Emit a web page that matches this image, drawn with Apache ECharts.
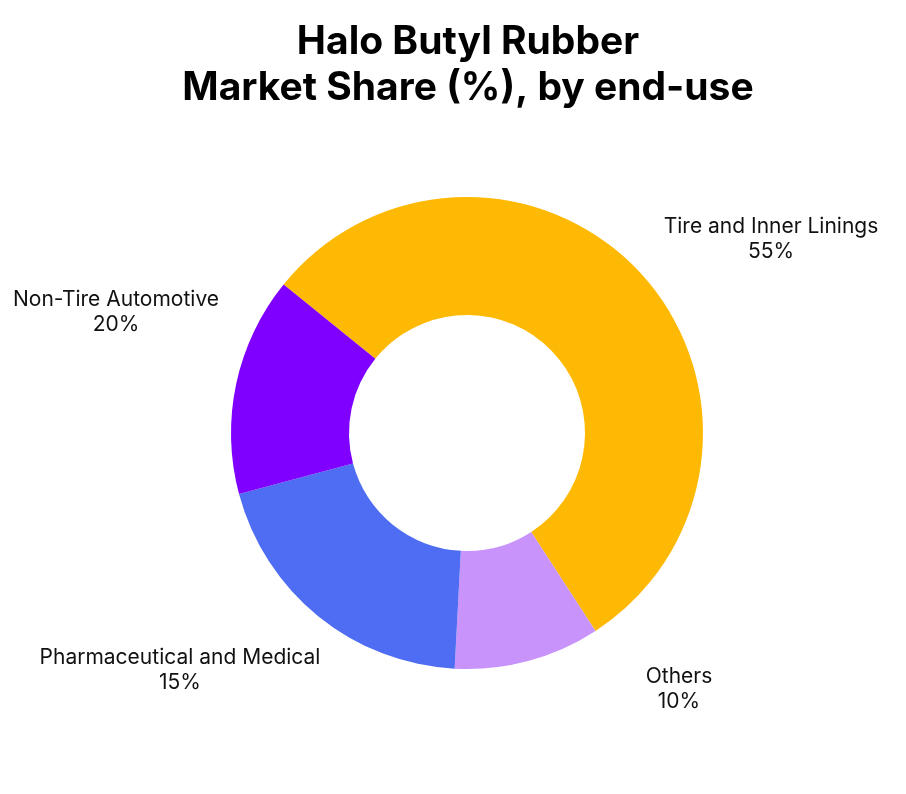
<!DOCTYPE html>
<html>
<head>
<meta charset="utf-8">
<script src="https://cdn.jsdelivr.net/npm/echarts@6/dist/echarts.min.js"></script>
<style>
  html, body { margin: 0; padding: 0; background: #ffffff; }
  #chart { width: 906px; height: 794px; }
</style>
</head>
<body>
<div id="chart"></div>
<script>
// ---- data ----
const categories = ['Tire and Inner Linings', 'Others', 'Pharmaceutical and Medical', 'Non-Tire Automotive'];
// slice sizes as drawn in the picture (share of the circle, %)
const sliceShares = [55, 10, 20, 15];
// percentages printed in the labels of the picture
const labelShares = [55, 10, 15, 20];
const titleLines = ['Halo Butyl Rubber', 'Market Share (%), by end-use'];

// ---- styles ----
const colors = ['#FDB903', '#C893FA', '#4E6DF3', '#7F00FF'];

const chart = echarts.init(document.getElementById('chart'), null, { renderer: 'canvas' });

const cx = 467, cy = 433;
// label centres relative to the pie centre (layout only)
const labelOffsets = [[304, -194], [212, 256], [-287, 237], [-351, -121]];

chart.setOption({
  animation: false,
  backgroundColor: '#ffffff',
  color: colors,
  title: {
    text: titleLines.join('\n'),
    left: 468,
    top: 19,
    padding: 0,
    textAlign: 'center',
    textStyle: {
      fontFamily: 'Inter',
      fontWeight: 'bold',
      fontSize: 39,
      lineHeight: 46,
      color: '#000000'
    }
  },
  series: [{
    type: 'pie',
    center: [cx, cy],
    radius: [118, 236],
    startAngle: 141,
    clockwise: true,
    avoidLabelOverlap: false,
    itemStyle: { borderWidth: 0 },
    label: {
      show: true,
      position: 'outside',
      formatter: p => p.name + '\n' + labelShares[p.dataIndex] + '%',
      fontFamily: 'Inter',
      fontSize: 21,
      lineHeight: 25,
      color: '#111111',
      align: 'center'
    },
    labelLine: { show: false },
    labelLayout: function (p) {
      const o = labelOffsets[p.dataIndex];
      return { x: cx + o[0], y: cy + o[1], align: 'center', verticalAlign: 'middle' };
    },
    emphasis: { disabled: true },
    data: categories.map((name, i) => ({ name: name, value: sliceShares[i] }))
  }]
});
</script>
</body>
</html>
